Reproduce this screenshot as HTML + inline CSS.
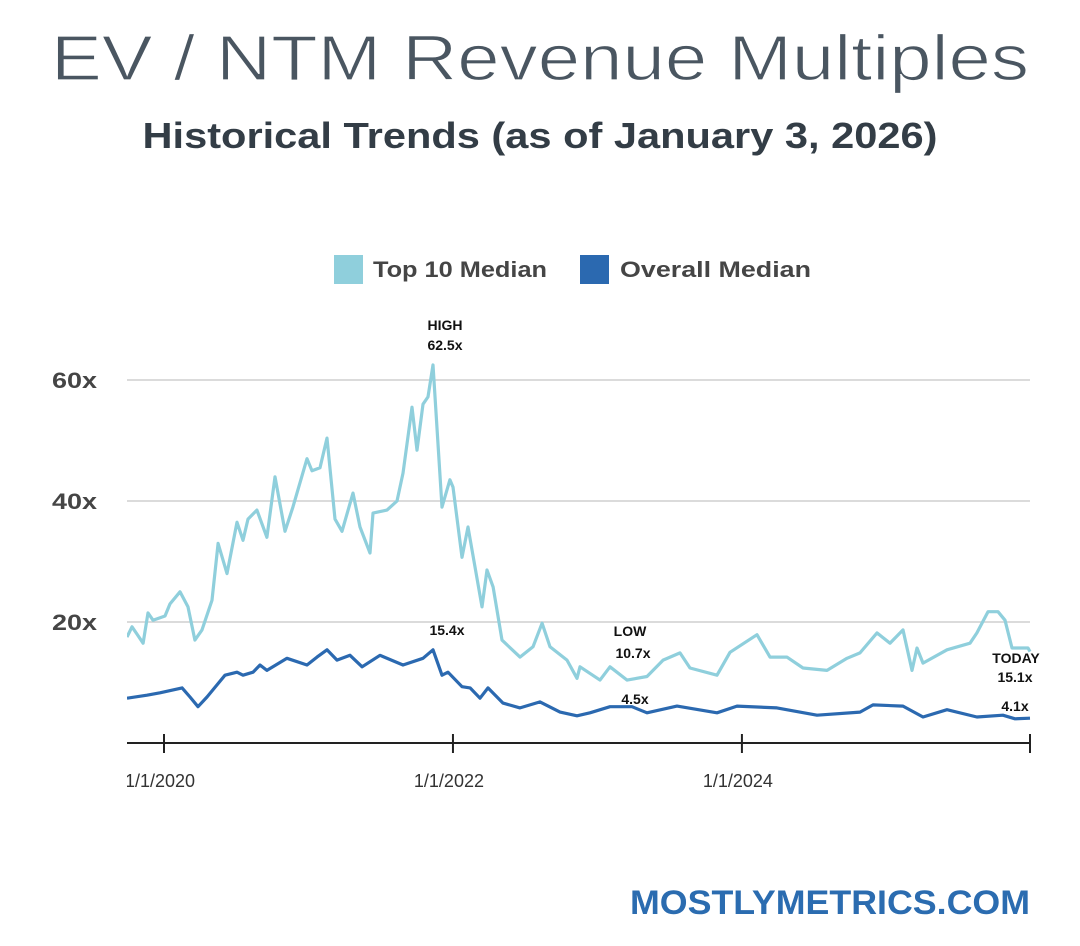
<!DOCTYPE html>
<html><head><meta charset="utf-8"><style>
html,body{margin:0;padding:0;background:#fff;}
svg{display:block;font-family:"Liberation Sans",sans-serif;}
</style></head><body>
<svg id="chart" width="1080" height="946" viewBox="0 0 1080 946" xmlns="http://www.w3.org/2000/svg">
<text x="540" y="80" text-anchor="middle" font-size="64" fill="#4a5661" stroke="#fff" stroke-width="1.2" textLength="978" lengthAdjust="spacingAndGlyphs">EV / NTM Revenue Multiples</text>
<text x="540" y="148" text-anchor="middle" font-size="36" font-weight="bold" fill="#333d46" textLength="795" lengthAdjust="spacingAndGlyphs">Historical Trends (as of January 3, 2026)</text>
<g>
<rect x="334" y="255" width="29" height="29" fill="#8fcfdc"/>
<text x="373" y="277" font-size="22" font-weight="bold" fill="#454545" textLength="174" lengthAdjust="spacingAndGlyphs">Top 10 Median</text>
<rect x="580" y="255" width="29" height="29" fill="#2b69b0"/>
<text x="620" y="277" font-size="22" font-weight="bold" fill="#454545" textLength="191" lengthAdjust="spacingAndGlyphs">Overall Median</text>
</g>
<g id="grid"></g>
<g id="axes"></g>
<g id="series"></g>
<g font-size="14" font-weight="bold" fill="#111" text-anchor="middle">
<text x="445" y="330">HIGH</text>
<text x="445" y="350">62.5x</text>
<text x="447" y="635">15.4x</text>
<text x="630" y="636">LOW</text>
<text x="633" y="658">10.7x</text>
<text x="635" y="704">4.5x</text>
<text x="1016" y="663">TODAY</text>
<text x="1015" y="682">15.1x</text>
<text x="1015" y="711">4.1x</text>
</g>
<text x="1030" y="914" text-anchor="end" font-size="34" font-weight="bold" fill="#2b6cb0" textLength="400" lengthAdjust="spacingAndGlyphs">MOSTLYMETRICS.COM</text>
</svg>
<script>
// months since Jan 2020
const top10Months = [-3.07,-2.66,-2.24,-1.74,-1.33,-0.91,0.08,0.5,1.33,1.99,2.57,3.16,3.99,4.49,5.23,6.06,6.56,6.98,7.72,8.55,9.22,10.05,10.71,11.88,12.29,12.96,13.54,14.2,14.78,15.7,16.28,17.11,17.36,18.52,19.35,19.85,20.6,21.01,21.51,21.93,22.34,23.09,23.75,24.0,24.75,25.25,26.41,26.83,27.33,28.07,29.57,30.65,31.4,32.06,33.47,34.3,34.55,36.21,37.04,38.46,40.12,41.45,42.86,43.69,45.93,47.01,49.25,50.33,51.74,53.07,55.07,56.73,57.81,59.22,60.3,61.38,62.13,62.54,63.04,65.03,66.94,67.52,68.44,69.27,69.85,70.43,71.76,71.93];
const top10Values = [17.5,19.2,18,16.5,21.5,20.3,21,23,25,22.5,17,18.7,23.6,33,28,36.5,33.5,37,38.5,34,44,35,39,47,45,45.5,50.4,37,35,41.3,35.7,31.4,38,38.5,40,44.6,55.5,48.4,56,57.2,62.5,39,43.5,42.3,30.7,35.7,22.5,28.6,25.8,17,14.2,15.9,19.8,15.9,13.7,10.7,12.6,10.4,12.6,10.4,11,13.7,14.9,12.4,11.2,15,17.9,14.2,14.2,12.4,12,14,14.9,18.2,16.5,18.7,12,15.7,13.2,15.4,16.5,18.2,21.7,21.7,20.3,15.7,15.7,15.1];
const overallMonths = [-3.07,-1.41,-0.33,1.5,2.16,2.82,3.57,4.4,5.07,6.06,6.56,7.39,7.97,8.55,10.22,11.88,12.71,13.54,14.37,15.45,16.45,17.94,19.85,21.51,22.34,23.09,23.59,24.75,25.42,26.25,26.91,28.16,29.57,31.23,32.89,34.3,35.38,37.04,38.87,40.12,42.61,45.93,47.59,50.91,54.24,57.81,58.89,61.38,63.04,65.03,67.52,69.68,70.68,71.93];
const overallValues = [7.4,7.9,8.3,9.1,7.6,6,7.6,9.6,11.2,11.7,11.2,11.7,12.9,12,14,12.9,14.2,15.4,13.7,14.5,12.6,14.5,12.9,14,15.4,11.2,11.7,9.3,9.1,7.4,9.1,6.6,5.8,6.8,5.1,4.5,5,6,6,5,6.1,5,6.1,5.8,4.6,5.1,6.3,6.1,4.3,5.5,4.3,4.6,4,4.1];
const yTicks = [20,40,60];
const yTickLabels = ["20x","40x","60x"];
const xTickMonths = [0,24,48,72];
const xTickLabels = ["1/1/2020","1/1/2022","1/1/2024",""];

const NS="http://www.w3.org/2000/svg";
const X0=127,X1=1030;
function xs(m){return 164+m*12.04;}
function ys(v){return 743-v*6.05;}
function mk(tag,attrs,parent){const e=document.createElementNS(NS,tag);for(const k in attrs)e.setAttribute(k,attrs[k]);parent.appendChild(e);return e;}
const grid=document.getElementById('grid'),axes=document.getElementById('axes'),series=document.getElementById('series');
yTicks.forEach((v,i)=>{
  const l=mk('line',{x1:X0,x2:X1,y1:ys(v),y2:ys(v),stroke:'#cfcfcf','stroke-width':1.5},grid);
  
  
  const t=mk('text',{x:52,y:ys(v)+8,'font-size':22,'font-weight':'bold',fill:'#454545',textLength:45,lengthAdjust:'spacingAndGlyphs'},grid);
  t.textContent=yTickLabels[i];
  
  
});
const ax=mk('line',{x1:X0,x2:X1,y1:743,y2:743,stroke:'#222','stroke-width':2},axes);


const clip=mk('clipPath',{id:'cp'},axes);
mk('rect',{x:X0,y:0,width:X1-X0+2,height:946},clip);
xTickMonths.forEach((m,i)=>{
  const x=Math.min(xs(m),X1);
  const tk=mk('line',{x1:x,x2:x,y1:734,y2:753,stroke:'#222','stroke-width':2},axes);
  
  
  if(xTickLabels[i]){
    const t=mk('text',{x:x-4,y:787,'font-size':18,fill:'#333','text-anchor':'middle','clip-path':'url(#cp)'},axes);
    t.textContent=xTickLabels[i];
    
    
  }
});
function path(ms,vs,color,name){
  const d=ms.map((m,i)=>(i?'L':'M')+xs(m).toFixed(1)+','+ys(vs[i]).toFixed(1)).join('');
  const p=mk('path',{d:d,fill:'none',stroke:color,'stroke-width':3.2,'stroke-linejoin':'round','clip-path':'url(#cp)'},series);
  
  
}
path(top10Months,top10Values,'#8fcfdc','top10-median-line');
path(overallMonths,overallValues,'#2b69b0','overall-median-line');
</script>
</body></html>
